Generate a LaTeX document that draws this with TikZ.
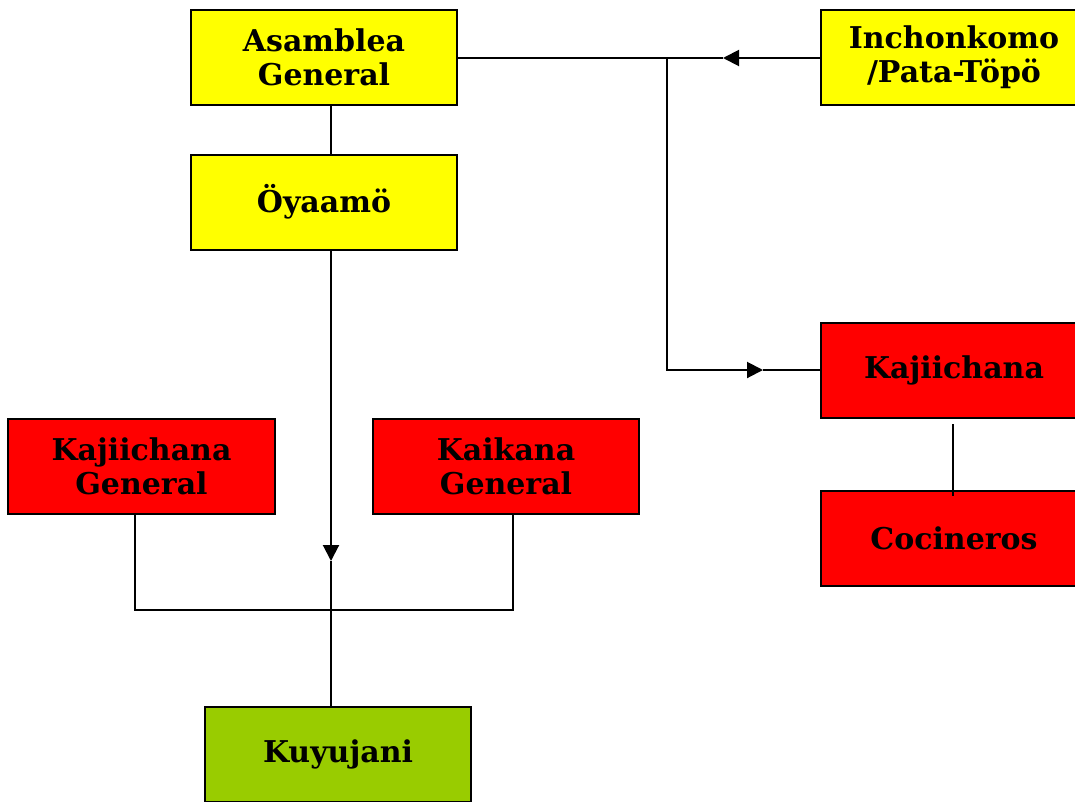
\documentclass[tikz,border=0pt]{standalone}
\usepackage{fontspec}
\setmainfont{DejaVu Serif}
\usetikzlibrary{arrows.meta}
\definecolor{ybox}{HTML}{FFFF00}
\definecolor{rbox}{HTML}{FF0000}
\definecolor{gbox}{HTML}{99CC00}
\begin{document}
\begin{tikzpicture}[x=1pt,y=-1pt,
  box/.style={draw=black,line width=2pt,minimum width=266pt,minimum height=95pt,inner sep=0pt,align=center,
    font=\fontsize{30}{34}\selectfont\bfseries},
  conn/.style={draw=black,line width=2pt},
  tip/.style={-{Triangle[length=16pt,width=16pt]}}]
\useasboundingbox (0,0) rectangle (1075,801);
\node[box,fill=ybox] (asam) at (324,57.5) {Asamblea\\General};
\node[box,fill=ybox] (oya) at (324,202) {Öyaamö};
\node[box,fill=ybox] (inch) at (954,57.5) {Inchonkomo\\/Pata-Töpö};
\node[box,fill=rbox] (kaj) at (954,370) {Kajiichana};
\node[box,fill=rbox] (coc) at (954,538) {Cocineros};
\node[box,fill=rbox,minimum width=267pt] (kg) at (141.5,466) {Kajiichana\\General};
\node[box,fill=rbox] (kk) at (506,466) {Kaikana\\General};
\node[box,fill=gbox] (kuy) at (338,754) {Kuyujani};
% helper coordinates
\coordinate (cx) at (331,0);
\coordinate (a1) at (331,561);
\coordinate (j1) at (331,610);
\coordinate (kgx) at (135,610);
\coordinate (kkx) at (513,610);
\coordinate (a2) at (723,58);
\coordinate (v1) at (667,58);
\coordinate (v2) at (667,370);
\coordinate (a3) at (763,370);
\coordinate (c1) at (953,424);
\coordinate (c2) at (953,496);
% connectors
\draw[conn] (asam.south -| cx) -- (oya.north -| cx);
\draw[conn,tip] (oya.south -| cx) -- (a1);
\draw[conn] (a1) -- (kuy.north -| cx);
\draw[conn] (kg.south -| kgx) -- (kgx) -- (kkx) -- (kk.south -| kkx);
\draw[conn,tip] (inch.west |- a2) -- (a2);
\draw[conn] (a2) -- (asam.east |- a2);
\draw[conn,tip] (v1) -- (v2) -- (a3);
\draw[conn] (a3) -- (kaj.west |- a3);
\draw[conn] (c1) -- (c2);
\end{tikzpicture}
\end{document}
